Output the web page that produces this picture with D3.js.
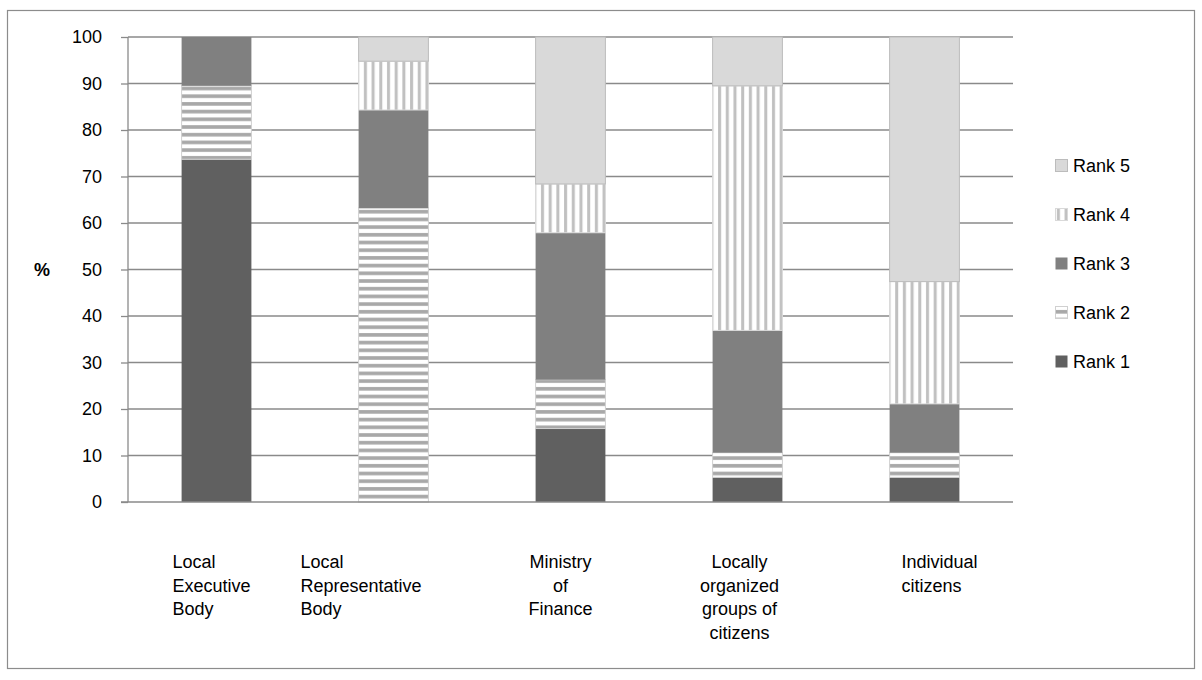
<!DOCTYPE html>
<html>
<head>
<meta charset="utf-8">
<script src="https://cdn.jsdelivr.net/npm/d3@7/dist/d3.min.js"></script>
<style>
  html, body { margin: 0; padding: 0; background: #fff; }
  svg { display: block; font-family: "Liberation Sans", Arial, sans-serif; }
</style>
</head>
<body>
<svg id="chart" width="1202" height="680"></svg>
<script>
// ---- data ----
const categories = [
  "Local\nExecutive\nBody",
  "Local\nRepresentative\nBody",
  "Ministry\nof\nFinance",
  "Locally\norganized\ngroups of\ncitizens",
  "Individual\ncitizens"
];
const seriesNames = ["Rank 1", "Rank 2", "Rank 3", "Rank 4", "Rank 5"];
const rank1 = [73.7, 0, 15.8, 5.3, 5.3];
const rank2 = [15.8, 63.2, 10.5, 5.3, 5.3];
const rank3 = [10.5, 21.1, 31.6, 26.3, 10.5];
const rank4 = [0, 10.5, 10.5, 52.6, 26.3];
const rank5 = [0, 5.3, 31.6, 10.5, 52.6];
const yTicks = [0, 10, 20, 30, 40, 50, 60, 70, 80, 90, 100];

// ---- layout ----
const FS = 18;
const plot = { left: 128, right: 1013, top: 37, bottom: 502 };
const labelAlign = ["start", "start", "middle", "middle", "start"];
const labelDx = [-44, -93, -10, -8, -23];

const svg = d3.select("#chart");
const defs = svg.append("defs");

// patterns
const pH = defs.append("pattern").attr("id", "pat-h")
  .attr("patternUnits", "userSpaceOnUse").attr("width", 8).attr("height", 7.7);
pH.append("rect").attr("width", 8).attr("height", 7.7).attr("fill", "#ffffff");
pH.append("rect").attr("y", 2).attr("width", 8).attr("height", 3.6).attr("fill", "#a8a8a8");

const pV = defs.append("pattern").attr("id", "pat-v")
  .attr("patternUnits", "userSpaceOnUse").attr("width", 7.7).attr("height", 8);
pV.append("rect").attr("width", 7.7).attr("height", 8).attr("fill", "#ffffff");
pV.append("rect").attr("x", 2).attr("width", 3).attr("height", 8).attr("fill", "#c0c0c0");

const fills = ["#606060", "url(#pat-h)", "#808080", "url(#pat-v)", "#d9d9d9"];
const strokes = ["none", "#d0d0d0", "none", "#d9d9d9", "#bcbcbc"];

// border
svg.append("rect").attr("x", 7.5).attr("y", 10.5).attr("width", 1187).attr("height", 658)
  .attr("fill", "none").attr("stroke", "#8c8c8c").attr("stroke-width", 1.2);

const x = d3.scaleBand().domain(d3.range(categories.length))
  .range([plot.left, plot.right]).paddingInner(0.6).paddingOuter(0.3);
const y = d3.scaleLinear().domain([0, 100]).range([plot.bottom, plot.top]);

// gridlines
svg.append("g").selectAll("line").data(yTicks.filter(d => d > 0)).join("line")
  .attr("x1", plot.left).attr("x2", plot.right)
  .attr("y1", d => y(d)).attr("y2", d => y(d))
  .attr("stroke", "#8a8a8a").attr("stroke-width", 1.3);

// stacked bars
const rows = categories.map((c, i) => ({
  i, "Rank 1": rank1[i], "Rank 2": rank2[i], "Rank 3": rank3[i], "Rank 4": rank4[i], "Rank 5": rank5[i]
}));
const stacked = d3.stack().keys(seriesNames)(rows);

svg.append("g").selectAll("g").data(stacked).join("g")
  .attr("fill", (d, k) => fills[k])
  .attr("stroke", (d, k) => strokes[k])
  .selectAll("rect").data(d => d.filter(s => s[1] - s[0] > 0)).join("rect")
  .attr("x", d => x(d.data.i) + 0.5)
  .attr("width", x.bandwidth() - 1)
  .attr("y", d => y(Math.min(d[1], 100)))
  .attr("height", d => y(d[0]) - y(Math.min(d[1], 100)));

// y axis
const yAxis = d3.axisLeft(y).tickValues(yTicks).tickSize(7).tickPadding(19);
const gy = svg.append("g").attr("transform", `translate(${plot.left},0)`).call(yAxis);
gy.select(".domain").attr("stroke", "#8a8a8a").attr("stroke-width", 1.3).attr("d", `M0,${plot.top}V${plot.bottom}`);
gy.selectAll(".tick line").attr("stroke", "#8a8a8a").attr("stroke-width", 1.3);
gy.selectAll(".tick text").attr("font-size", FS).attr("fill", "#000")
  .attr("font-family", "Liberation Sans, Arial, sans-serif");

// x axis baseline
svg.append("line").attr("x1", plot.left - 7).attr("x2", plot.right)
  .attr("y1", y(0)).attr("y2", y(0)).attr("stroke", "#8a8a8a").attr("stroke-width", 1.3);

// y axis title
svg.append("text").attr("x", 42).attr("y", y(50)).attr("dy", "0.35em")
  .attr("text-anchor", "middle").attr("font-size", FS).attr("font-weight", "bold").text("%");

// category labels
categories.forEach((c, i) => {
  const cx = x(i) + x.bandwidth() / 2 + labelDx[i];
  const t = svg.append("text").attr("font-size", FS).attr("fill", "#000")
    .attr("text-anchor", labelAlign[i]);
  c.split("\n").forEach((line, j) => {
    t.append("tspan").attr("x", cx).attr("y", 568 + j * 23.5).text(line);
  });
});

// legend
const legendOrder = [4, 3, 2, 1, 0];
const lg = svg.append("g");
legendOrder.forEach((k, j) => {
  const cy = 166 + j * 49;
  lg.append("rect").attr("x", 1055.5).attr("y", cy - 6.5).attr("width", 12).attr("height", 12)
    .attr("fill", fills[k]).attr("stroke", strokes[k] === "none" ? "none" : strokes[k]);
  lg.append("text").attr("x", 1073).attr("y", cy).attr("dy", "0.35em")
    .attr("font-size", FS).attr("fill", "#000").text(seriesNames[k]);
});
</script>
</body>
</html>
